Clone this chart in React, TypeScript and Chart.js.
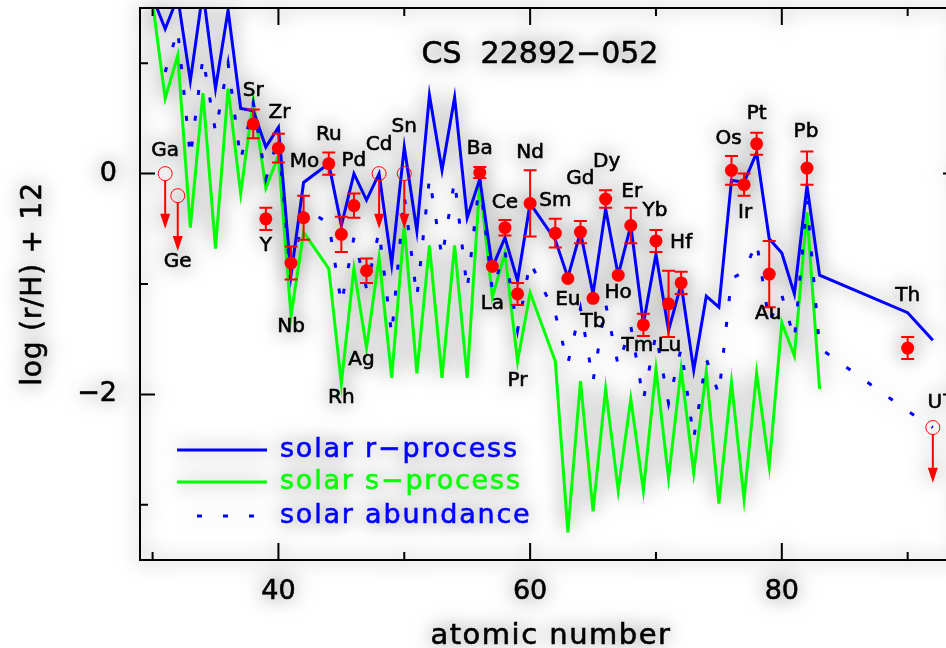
import React, { useEffect, useRef } from 'react';
import { Chart, registerables } from 'chart.js';

Chart.register(...registerables);

// Scaled solar r-process abundances, log eps, by atomic number
const R_Z = [30, 31, 32, 33, 34, 35, 36, 37, 38, 39, 40, 41, 42, 44, 45, 46, 47, 48, 49, 50, 51, 52, 53, 54, 55, 56, 57, 58, 59, 60, 62, 63, 64, 65, 66, 67, 68, 69, 70, 71, 72, 73, 74, 75, 76, 77, 78, 79, 80, 81, 82, 83, 90, 92];
const R_LOG = [1.6, 1.31, 1.6, 0.84, 1.65, 0.77, 1.48, 0.59, 0.57, 0.24, 0.42, -0.92, -0.08, 0.09, -0.47, 0.0, -0.24, 0.0, -0.82, 0.24, -0.52, 0.71, 0.03, 0.69, -0.4, -0.05, -0.85, -0.58, -0.97, -0.27, -0.6, -0.94, -0.53, -1.09, -0.32, -0.92, -0.47, -1.36, -0.73, -1.42, -1.0, -1.78, -1.11, -1.21, -0.06, -0.08, 0.19, -0.59, -0.72, -1.09, -0.11, -0.92, -1.26, -1.51];

// Scaled solar s-process abundances
const S_Z = [30, 31, 32, 33, 34, 35, 36, 37, 38, 39, 40, 41, 42, 44, 45, 46, 47, 48, 49, 50, 51, 52, 53, 54, 55, 56, 57, 58, 59, 60, 62, 63, 64, 65, 66, 67, 68, 69, 70, 71, 72, 73, 74, 75, 76, 77, 78, 79, 80, 81, 82, 83];
const S_LOG = [1.55, 0.68, 1.07, -0.49, 0.73, -0.68, 0.77, -0.18, 0.66, -0.13, 0.16, -1.29, -0.53, -0.86, -1.9, -0.86, -1.58, -0.76, -1.85, -0.47, -1.81, -0.65, -1.85, -0.65, -1.85, -0.08, -1.12, -0.72, -1.7, -1.08, -1.7, -3.25, -1.88, -3.06, -1.95, -2.87, -2.04, -2.87, -1.77, -2.76, -1.77, -2.71, -1.79, -2.99, -1.89, -2.95, -1.81, -2.65, -1.35, -1.65, -0.35, -1.95];

// Scaled total solar abundances
const SUN_Z = [31, 32, 33, 34, 35, 36, 37, 38, 39, 40, 41, 42, 44, 45, 46, 47, 48, 49, 50, 51, 52, 53, 54, 55, 56, 57, 58, 59, 60, 62, 63, 64, 65, 66, 67, 68, 69, 70, 71, 72, 73, 74, 75, 76, 77, 78, 79, 80, 81, 82, 83, 90, 92];
const SUN_LOG = [0.92, 1.3, 0.15, 1.05, 0.38, 1.0, 0.12, 0.64, -0.05, 0.33, -1.0, -0.31, -0.45, -1.18, -0.58, -1.04, -0.52, -1.46, -0.2, -1.12, -0.04, -0.76, -0.06, -1.05, -0.05, -1.06, -0.7, -1.42, -0.8, -1.27, -1.72, -1.22, -1.88, -1.18, -1.74, -1.38, -2.05, -1.45, -2.08, -1.58, -2.4, -1.68, -2.0, -0.95, -0.89, -0.62, -1.35, -1.1, -1.5, -0.25, -1.58, -2.15, -2.3];

// CS 22892-052 detections with errors
const OBS_EL = ['Sr', 'Y', 'Zr', 'Nb', 'Mo', 'Ru', 'Rh', 'Pd', 'Ag', 'Ba', 'La', 'Ce', 'Pr', 'Nd', 'Sm', 'Eu', 'Gd', 'Tb', 'Dy', 'Ho', 'Er', 'Tm', 'Yb', 'Lu', 'Hf', 'Os', 'Ir', 'Pt', 'Au', 'Pb', 'Th'];
const OBS_Z = [38, 39, 40, 41, 42, 44, 45, 46, 47, 56, 57, 58, 59, 60, 62, 63, 64, 65, 66, 67, 68, 69, 70, 71, 72, 76, 77, 78, 79, 82, 90];
const OBS_LOG = [0.45, -0.41, 0.23, -0.81, -0.4, 0.09, -0.55, -0.29, -0.88, 0.01, -0.84, -0.49, -1.09, -0.27, -0.54, -0.95, -0.53, -1.13, -0.23, -0.92, -0.47, -1.37, -0.61, -1.18, -0.99, 0.03, -0.1, 0.27, -0.91, 0.05, -1.58];
const OBS_ERR = [0.13, 0.1, 0.13, 0.15, 0.2, 0.1, 0.16, 0.11, 0.11, 0.05, 0, 0.07, 0.1, 0.3, 0.13, 0, 0.1, 0, 0.08, 0, 0.16, 0.1, 0.1, 0.3, 0.1, 0.13, 0.1, 0.1, 0.3, 0.15, 0.1];

// Upper limits
const LIM_EL = ['Ga', 'Ge', 'Cd', 'Sn', 'U'];
const LIM_Z = [31, 32, 48, 50, 92];
const LIM_LOG = [0.0, -0.2, 0.0, 0.0, -2.3];
const ARROW_DEX = 0.5;

// Label placement relative to the symbol, in pixels
const LABEL_OFFSET: Record<string, [number, number]> = {
  Ga: [0, -23], Ge: [0, 66], Sr: [0, -33], Y: [0, 27], Zr: [1, -35], Nb: [0, 64], Mo: [1, -56],
  Ru: [0, -29], Rh: [0, 163], Pd: [0, -45], Ag: [-5, 89], Cd: [0, -29], Sn: [0, -47],
  Ba: [0, -24], La: [0, 37], Ce: [0, -25], Pr: [0, 87], Nd: [0, -51], Sm: [0, -32],
  Eu: [0, 21], Gd: [0, -53], Tb: [0, 23], Dy: [1, -37], Ho: [0, 18], Er: [1, -34],
  Tm: [-6, 21], Yb: [-1, -30], Lu: [1, 42], Hf: [0, -40], Os: [-3, -31], Ir: [1, 28],
  Pt: [0, -30], Au: [-1, 40], Pb: [-1, -36], Th: [0, -52], U: [2, -25],
};

const X_MIN = 29;
const X_MAX = 94;
const Y_MIN = -3.5;
const Y_MAX = 1.5;
const X_MAJOR = [40, 60, 80];
const X_MINOR = [30, 50, 70, 90];
const Y_MAJOR = [0, -2];
const Y_MINOR = [1, -1, -3];

const TITLE = 'CS  22892\u2212052';
const X_TITLE = 'atomic number';
const Y_TITLE = 'log (r/H) + 12';
const LEGEND = ['solar r\u2212process', 'solar s\u2212process', 'solar abundance'];

const BLUE = '#0000ff';
const GREEN = '#00ff00';
const RED = '#ff0000';
const FONT = '"DejaVu Sans", sans-serif';

// Text with a faint outline so strokes read as heavy as plotter lettering
function text(
  ctx: CanvasRenderingContext2D, s: string, x: number, y: number, size: number, color: string,
  align: CanvasTextAlign = 'center', baseline: CanvasTextBaseline = 'middle', spacing = 0,
) {
  ctx.save();
  ctx.font = `${size}px ${FONT}`;
  ctx.fillStyle = color;
  ctx.strokeStyle = color;
  ctx.lineWidth = 0.6;
  ctx.textAlign = align;
  ctx.textBaseline = baseline;
  (ctx as any).letterSpacing = `${spacing}px`;
  ctx.fillText(s, x, y);
  ctx.strokeText(s, x, y);
  ctx.restore();
}

const decorations = {
  id: 'decorations',
  afterDatasetsDraw(chart: any) {
    const { ctx, scales } = chart;
    const x = scales.x;
    const y = scales.y;
    ctx.save();
    ctx.strokeStyle = RED;
    ctx.fillStyle = RED;
    ctx.lineWidth = 2;
    OBS_Z.forEach((z, i) => {
      const e = OBS_ERR[i];
      if (!e) return;
      const px = x.getPixelForValue(z);
      const top = y.getPixelForValue(OBS_LOG[i] + e);
      const bot = y.getPixelForValue(OBS_LOG[i] - e);
      ctx.beginPath();
      ctx.moveTo(px, top);
      ctx.lineTo(px, bot);
      ctx.moveTo(px - 6.5, top);
      ctx.lineTo(px + 6.5, top);
      ctx.moveTo(px - 6.5, bot);
      ctx.lineTo(px + 6.5, bot);
      ctx.stroke();
    });
    LIM_Z.forEach((z, i) => {
      const px = x.getPixelForValue(z);
      const py = y.getPixelForValue(LIM_LOG[i]);
      const tip = y.getPixelForValue(LIM_LOG[i] - ARROW_DEX);
      ctx.beginPath();
      ctx.moveTo(px, py + 7);
      ctx.lineTo(px, tip - 10);
      ctx.stroke();
      ctx.beginPath();
      ctx.moveTo(px - 5, tip - 15);
      ctx.lineTo(px + 5, tip - 15);
      ctx.lineTo(px, tip);
      ctx.closePath();
      ctx.fill();
    });
    ctx.restore();
  },
  afterDraw(chart: any) {
    const { ctx, chartArea: a, scales } = chart;
    const x = scales.x;
    const y = scales.y;

    // frame and inward ticks
    ctx.save();
    ctx.strokeStyle = '#000';
    ctx.lineWidth = 2;
    ctx.strokeRect(a.left, a.top, a.right - a.left, a.bottom - a.top);
    ctx.beginPath();
    const xt = (v: number, len: number) => {
      const p = x.getPixelForValue(v);
      ctx.moveTo(p, a.bottom);
      ctx.lineTo(p, a.bottom - len);
      ctx.moveTo(p, a.top);
      ctx.lineTo(p, a.top + len);
    };
    const yt = (v: number, len: number) => {
      const p = y.getPixelForValue(v);
      ctx.moveTo(a.left, p);
      ctx.lineTo(a.left + len, p);
      ctx.moveTo(a.right, p);
      ctx.lineTo(a.right - len, p);
    };
    X_MAJOR.forEach((v) => xt(v, 17));
    X_MINOR.forEach((v) => xt(v, 8));
    Y_MAJOR.forEach((v) => yt(v, 15));
    Y_MINOR.forEach((v) => yt(v, 8));
    ctx.stroke();
    ctx.restore();

    // tick labels
    X_MAJOR.forEach((v) => text(ctx, String(v), x.getPixelForValue(v), 592, 27, '#000'));
    Y_MAJOR.forEach((v) =>
      text(ctx, v < 0 ? '\u2212' + Math.abs(v) : String(v), 117, y.getPixelForValue(v), 27, '#000', 'right'));

    // axis titles
    text(ctx, X_TITLE, 551, 644, 29, '#000', 'center', 'alphabetic', 1.5);
    ctx.save();
    ctx.translate(34, 284);
    ctx.rotate(-Math.PI / 2);
    text(ctx, Y_TITLE, 0, 0, 28, '#000', 'center', 'middle', 0.8);
    ctx.restore();

    // title
    text(ctx, TITLE, 540, 63, 30, '#000', 'center', 'alphabetic');

    // element labels
    const label = (el: string, z: number, v: number) => {
      const off = LABEL_OFFSET[el] || [0, -25];
      text(ctx, el, x.getPixelForValue(z) + off[0], y.getPixelForValue(v) + off[1], 20, '#000');
    };
    OBS_EL.forEach((el, i) => label(el, OBS_Z[i], OBS_LOG[i]));
    LIM_EL.forEach((el, i) => label(el, LIM_Z[i], LIM_LOG[i]));

    // legend
    ctx.save();
    ctx.lineWidth = 3;
    ctx.strokeStyle = BLUE;
    ctx.beginPath();
    ctx.moveTo(177, 450);
    ctx.lineTo(267, 450);
    ctx.stroke();
    ctx.strokeStyle = GREEN;
    ctx.beginPath();
    ctx.moveTo(177, 482);
    ctx.lineTo(267, 482);
    ctx.stroke();
    ctx.strokeStyle = BLUE;
    ctx.setLineDash([5, 21]);
    ctx.beginPath();
    ctx.moveTo(197, 516);
    ctx.lineTo(262, 516);
    ctx.stroke();
    ctx.restore();
    text(ctx, LEGEND[0], 280, 450, 27, BLUE, 'left', 'middle', 1.8);
    text(ctx, LEGEND[1], 280, 482, 27, GREEN, 'left', 'middle', 1.8);
    text(ctx, LEGEND[2], 280, 516, 27, BLUE, 'left', 'middle', 1.8);
  },
};

const pts = (zs: number[], vs: number[]) => zs.map((z, i) => ({ x: z, y: vs[i] }));

export default function App() {
  const ref = useRef<HTMLCanvasElement>(null);

  useEffect(() => {
    if (!ref.current) return;
    const chart = new Chart(ref.current, {
      type: 'scatter',
      data: {
        datasets: [
          {
            data: pts(OBS_Z, OBS_LOG),
            pointRadius: 6.5,
            pointBackgroundColor: RED,
            pointBorderWidth: 0,
            showLine: false,
            order: 0,
          },
          {
            data: pts(LIM_Z, LIM_LOG),
            pointRadius: 7,
            pointBackgroundColor: 'rgba(0,0,0,0)',
            pointBorderColor: RED,
            pointBorderWidth: 1,
            showLine: false,
            order: 0,
          },
          {
            data: pts(SUN_Z, SUN_LOG),
            showLine: true,
            borderColor: BLUE,
            borderWidth: 3,
            borderDash: [5, 21],
            pointRadius: 0,
            order: 1,
          },
          {
            data: pts(R_Z, R_LOG),
            showLine: true,
            borderColor: BLUE,
            borderWidth: 3,
            pointRadius: 0,
            order: 2,
          },
          {
            data: pts(S_Z, S_LOG),
            showLine: true,
            borderColor: GREEN,
            borderWidth: 3,
            pointRadius: 0,
            order: 3,
          },
        ],
      },
      options: {
        animation: false,
        responsive: false,
        devicePixelRatio: 1,
        events: [],
        layout: { padding: { left: 140, top: 7, right: 42, bottom: 88 } },
        plugins: { legend: { display: false }, tooltip: { enabled: false } },
        scales: {
          x: { type: 'linear', min: X_MIN, max: X_MAX, display: false },
          y: { type: 'linear', min: Y_MIN, max: Y_MAX, display: false },
        },
      },
      plugins: [decorations],
    });
    return () => chart.destroy();
  }, []);

  return (
    <div style={{ position: 'absolute', left: 0, top: 0, width: 946, height: 648, overflow: 'hidden', background: '#fff' }}>
      <canvas
        ref={ref}
        width={1000}
        height={648}
        style={{ width: 1000, height: 648, display: 'block', filter: 'drop-shadow(0px 0px 10px rgba(0,0,0,0.55))' }}
      />
    </div>
  );
}
